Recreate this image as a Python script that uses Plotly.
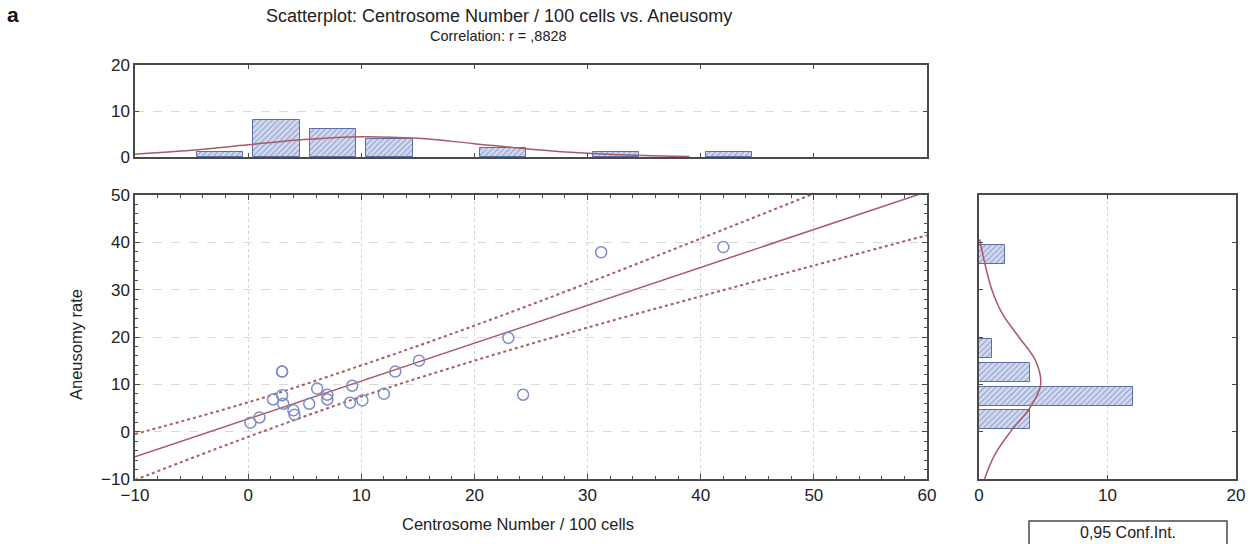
import plotly.graph_objects as go

# ---------------- data ----------------
centrosome = [0.2, 1.0, 2.2, 3.0, 3.1, 3.0, 3.0, 4.0, 4.1, 5.4, 6.1, 7.0, 7.0,
              9.2, 9.0, 10.1, 12.0, 13.0, 15.1, 23.0, 24.3, 31.2, 42.0]
aneusomy = [1.9, 3.0, 6.8, 7.7, 5.9, 12.7, 12.7, 4.5, 3.6, 5.9, 9.1, 7.8, 6.8,
            9.7, 6.1, 6.6, 8.0, 12.7, 15.0, 19.8, 7.8, 37.9, 39.0]

# regression line and 0.95 confidence band
fit_x = [-10, 0, 10, 20, 30, 40, 50, 60]
fit_y = [-5.3, 2.7, 10.7, 18.7, 26.7, 34.7, 42.7, 50.7]
ci_upper = [-0.5, 6.2, 14.0, 22.4, 31.4, 40.8, 50.3, 59.9]
ci_lower = [-10.2, -1.1, 7.4, 15.0, 22.0, 28.6, 35.1, 41.5]

# top histogram (centrosome number)
top_bin_centers = [-2.5, 2.5, 7.5, 12.5, 22.5, 32.5, 42.5]
top_counts = [1, 8, 6, 4, 2, 1, 1]
top_curve_x = [-10, -5, 0, 5, 10, 15, 20, 25, 30, 35, 39]
top_curve_y = [0.6, 1.45, 2.65, 3.8, 4.4, 4.05, 2.9, 1.7, 0.8, 0.3, 0.1]

# right histogram (aneusomy rate)
right_bin_centers = [2.5, 7.5, 12.5, 17.5, 37.5]
right_counts = [4, 12, 4, 1, 2]
right_curve_y = [-10, -5, 0, 5, 10, 15, 20, 25, 30, 35, 40.6]
right_curve_x = [0.43, 1.2, 2.45, 3.95, 4.8, 4.4, 3.1, 1.8, 1.0, 0.5, 0.05]

# ---------------- styling ----------------
W, H = 1252, 544
FONT = "Liberation Sans, Arial, sans-serif"
FRAME = "#4a4a4a"
RED = "#a85a68"
BLUE = "#7f8bc6"


def px(x):
    return x / W


def py(y):
    return 1 - y / H


bar_marker = dict(
    color="#d3dbf0",
    line=dict(color="#5d6cab", width=1),
    pattern=dict(shape="/", fillmode="replace", bgcolor="#d3dbf0",
                 fgcolor="#8d98c8", size=4, solidity=0.25),
)

fig = go.Figure()

# main scatter
fig.add_trace(go.Scatter(x=fit_x, y=ci_upper, mode="lines", line=dict(color=RED, width=2, dash="dot"),
                         line_shape="spline", xaxis="x", yaxis="y", showlegend=False))
fig.add_trace(go.Scatter(x=fit_x, y=ci_lower, mode="lines", line=dict(color=RED, width=2, dash="dot"),
                         line_shape="spline", xaxis="x", yaxis="y", showlegend=False))
fig.add_trace(go.Scatter(x=fit_x, y=fit_y, mode="lines", line=dict(color=RED, width=1.5),
                         xaxis="x", yaxis="y", showlegend=False))
fig.add_trace(go.Scatter(x=centrosome, y=aneusomy, mode="markers",
                         marker=dict(symbol="circle-open", size=11, color=BLUE, line=dict(width=1.5, color=BLUE)),
                         xaxis="x", yaxis="y", showlegend=False))

# top histogram
fig.add_trace(go.Bar(x=top_bin_centers, y=top_counts, width=4.1, marker=bar_marker,
                     xaxis="x2", yaxis="y2", showlegend=False))
fig.add_trace(go.Scatter(x=top_curve_x, y=top_curve_y, mode="lines", line_shape="spline",
                         line=dict(color=RED, width=1.5), xaxis="x2", yaxis="y2", showlegend=False))

# right histogram
fig.add_trace(go.Bar(y=right_bin_centers, x=right_counts, width=4.0, orientation="h", marker=bar_marker,
                     xaxis="x3", yaxis="y3", showlegend=False))
fig.add_trace(go.Scatter(x=right_curve_x, y=right_curve_y, mode="lines", line_shape="spline",
                         line=dict(color=RED, width=1.5), xaxis="x3", yaxis="y3", showlegend=False))

common = dict(showline=True, linecolor=FRAME, linewidth=1.5, mirror="allticks", ticks="inside",
              tickcolor=FRAME, zeroline=False, automargin=False,
              tickfont=dict(family=FONT, size=17, color="#222"))

main_x_dom = [px(135), px(927)]
main_y_dom = [py(479), py(195)]

fig.update_layout(
    width=W, height=H,
    margin=dict(l=0, r=0, t=0, b=0, autoexpand=False),
    paper_bgcolor="white", plot_bgcolor="white",
    font=dict(family=FONT, color="#222"),
    bargap=0,
    xaxis=dict(domain=main_x_dom, anchor="y", range=[-10, 60], dtick=10, ticklen=5,
               showgrid=True, gridcolor="#d2d2d2", griddash="dot", gridwidth=1,
               minor=dict(dtick=2, ticks="inside", ticklen=3, tickcolor=FRAME, showgrid=False),
               **common),
    yaxis=dict(domain=main_y_dom, anchor="x", range=[-10, 50], dtick=10, ticklen=5,
               showgrid=True, gridcolor="#dadada", griddash="dash", gridwidth=1,
               minor=dict(dtick=2, ticks="inside", ticklen=3, tickcolor=FRAME, showgrid=False),
               **common),
    xaxis2=dict(domain=main_x_dom, anchor="y2", range=[-10, 60], dtick=10, ticklen=4,
                showticklabels=False, showgrid=False, **common),
    yaxis2=dict(domain=[py(157), py(65)], anchor="x2", range=[0, 20], dtick=10, ticklen=4,
                showgrid=True, gridcolor="#dadada", griddash="dash", **common),
    xaxis3=dict(domain=[px(979), px(1236)], anchor="y3", range=[0, 20], dtick=10, ticklen=4,
                showgrid=True, gridcolor="#d2d2d2", griddash="dot", **common),
    yaxis3=dict(domain=main_y_dom, anchor="x3", range=[-10, 50], dtick=10, ticklen=4,
                showticklabels=False, showgrid=False, **common),
)

annotations = [
    dict(text="a", x=px(13), y=py(1), xanchor="center", yanchor="top",
         font=dict(size=21, family=FONT, color="#111", weight="bold")),
    dict(text="Scatterplot: Centrosome Number / 100 cells vs. Aneusomy", x=px(499), y=py(16),
         xanchor="center", yanchor="middle", font=dict(size=18, family=FONT, color="#222")),
    dict(text="Correlation: r = ,8828", x=px(498), y=py(36),
         xanchor="center", yanchor="middle", font=dict(size=14.5, family=FONT, color="#222")),
    dict(text="Centrosome Number / 100 cells", x=px(518), y=py(524),
         xanchor="center", yanchor="middle", font=dict(size=16.5, family=FONT, color="#222")),
    dict(text="Aneusomy rate", x=px(76), y=py(345), textangle=-90,
         xanchor="center", yanchor="middle", font=dict(size=16.5, family=FONT, color="#222")),
    dict(text="0,95 Conf.Int.", x=px(1128), y=py(532),
         xanchor="center", yanchor="middle", font=dict(size=16, family=FONT, color="#222")),
]
for a in annotations:
    a.update(xref="paper", yref="paper", showarrow=False)
fig.update_layout(annotations=annotations)

fig.add_shape(type="rect", xref="paper", yref="paper", x0=px(1029), x1=px(1227), y0=py(547), y1=py(521),
              line=dict(color=FRAME, width=1.5), fillcolor="rgba(0,0,0,0)")

fig.write_html("out.html", config={"displayModeBar": False},
               post_script="document.body.style.margin='0';document.body.style.overflow='hidden';")
